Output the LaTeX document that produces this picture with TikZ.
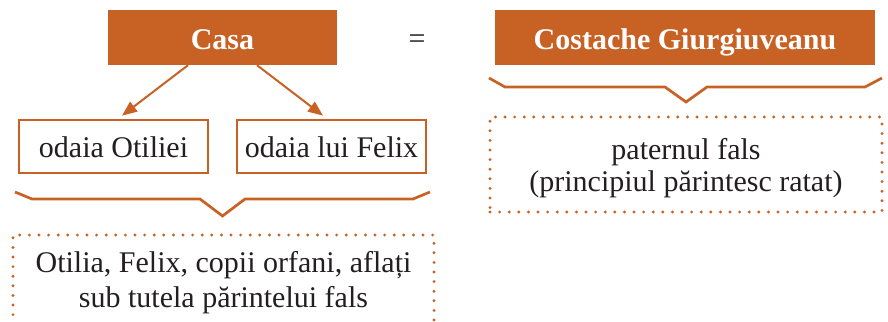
\documentclass[tikz,border=0pt]{standalone}
\usepackage{fontspec}
\setmainfont{Liberation Serif}
\usetikzlibrary{arrows.meta,positioning,calc}
\definecolor{casaorange}{RGB}{200,98,36}
\definecolor{inkgray}{RGB}{35,31,32}

\begin{document}
\begin{tikzpicture}[x=1pt, y=-1pt, text=inkgray, font=\fontsize{30}{35}\selectfont,
  >={Triangle[length=15pt,width=12pt]},
  head/.style={fill=casaorange, text=white, font=\fontsize{30}{35}\selectfont\bfseries,
               minimum height=55pt, inner sep=0pt, text height=23pt, text depth=0pt},
  room/.style={draw=casaorange, line width=2.7pt, fill=white, minimum width=189pt,
               minimum height=53pt, inner sep=0pt, text height=21pt, text depth=0pt},
  note/.style={draw=casaorange, line width=3.2pt, dash pattern=on 0pt off 9.6pt,
               line cap=round, align=center, inner sep=0pt},
  brace/.style={draw=casaorange, line width=2.7pt, line join=miter}]
\useasboundingbox (0,0) rectangle (888,321);
\node[head, minimum width=229pt] (casa) at (222.5,37.5) {Casa};
\node (eq) at (417,42) {=};
\node[head, minimum width=380pt] (cg) at (685,37.5) {Costache Giurgiuveanu};
\node[room] (ot) at (113.5,146.5) {odaia Otiliei};
\node[room] (fx) at (331.5,146.5) {odaia lui Felix};
\draw[->, casaorange, line width=2pt] ([xshift=-34.5pt]casa.south) -- ([xshift=8.5pt,yshift=3pt]ot.north);
\draw[->, casaorange, line width=2pt] ([xshift=34.5pt]casa.south) -- ([xshift=-8.5pt,yshift=3pt]fx.north);
% braces
\draw[brace] (15,192) -- (32,199) -- (200,199) -- (222.5,216) -- (245,199) -- (413,199) -- (430,192);
\draw[brace] (489,78) -- (505,87) -- (665,87) -- (686,102) -- (707,87) -- (865,87) -- (882,78);
\node[note, minimum width=421pt, minimum height=96pt] (kids) at (223.5,283)
  {Otilia, Felix, copii orfani, aflați\\sub tutela părintelui fals};
\node[note, minimum width=392pt, minimum height=95pt] (tata) at (686,164.5) {};
\node[align=center, font=\fontsize{30}{32}\selectfont] (tatatext) at ([yshift=-4pt]tata.center)
  {paternul fals\\(principiul părintesc ratat)};
\end{tikzpicture}
\end{document}
